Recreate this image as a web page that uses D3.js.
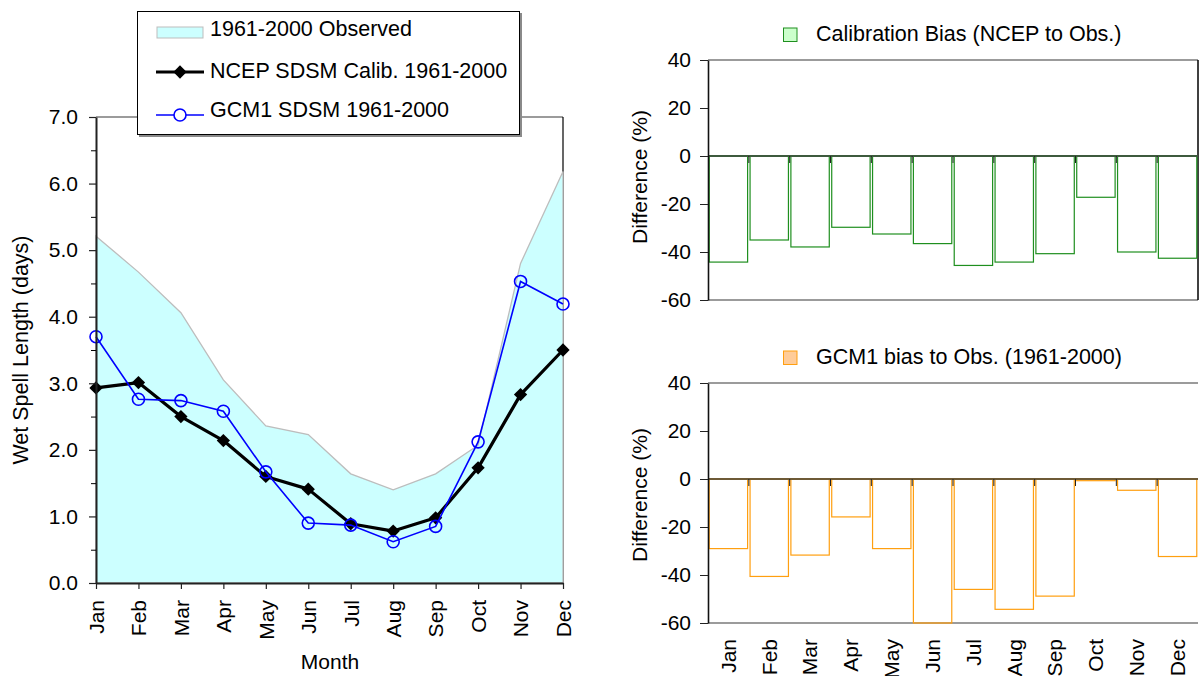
<!DOCTYPE html>
<html>
<head>
<meta charset="utf-8">
<script src="https://cdn.jsdelivr.net/npm/d3@7"></script>
<style>
  body { margin: 0; background: #fff; }
  svg { display: block; }
  text { font-family: "Liberation Sans", Arial, sans-serif; fill: #000; }
</style>
</head>
<body>
<svg id="chart" width="1199" height="676"></svg>
<script>
// ---- data ----
const months = ["Jan", "Feb", "Mar", "Apr", "May", "Jun", "Jul", "Aug", "Sep", "Oct", "Nov", "Dec"];
// mean wet spell length (days)
const observed  = [5.21, 4.67, 4.06, 3.05, 2.36, 2.23, 1.64, 1.40, 1.64, 2.07, 4.80, 6.18];
const ncepCalib = [2.93, 3.01, 2.50, 2.14, 1.60, 1.41, 0.89, 0.78, 0.98, 1.73, 2.83, 3.50];
const gcm1      = [3.70, 2.76, 2.74, 2.58, 1.67, 0.90, 0.87, 0.62, 0.85, 2.12, 4.53, 4.19];
// differences to observed (%)
const calibBias = [-44.2, -35.0, -37.9, -29.7, -32.5, -36.5, -45.6, -44.2, -40.7, -17.2, -40.0, -42.6];
const gcmBias   = [-29.0, -40.6, -31.7, -15.8, -29.0, -60.0, -46.0, -54.3, -48.8, -0.7, -4.7, -32.3];
// tick values
const wetTicks = [0, 1, 2, 3, 4, 5, 6, 7];
const wetMinorTicks = [0.5, 1.5, 2.5, 3.5, 4.5, 5.5, 6.5];
const diffTicks = [-60, -40, -20, 0, 20, 40];

const FS = 21;     // tick labels
const FS_L = 21.5; // legends and axis titles
const svg = d3.select("#chart");

// ================= left panel: wet spell length =================
const L = { left: 96, right: 563, top: 117, bottom: 583 };
const xL = d3.scalePoint().domain(months).range([L.left, L.right]);
const yL = d3.scaleLinear().domain([0, 7]).range([L.bottom, L.top]);
const gL = svg.append("g");

// plot frame
gL.append("line").attr("x1", L.left).attr("x2", L.right).attr("y1", L.top).attr("y2", L.top)
  .attr("stroke", "#7a7a7a").attr("stroke-width", 1.5);
gL.append("line").attr("x1", L.right).attr("x2", L.right).attr("y1", L.top).attr("y2", L.bottom)
  .attr("stroke", "#000").attr("stroke-width", 1.2);

// observed envelope
const area = d3.area()
  .x((d, i) => xL(months[i]))
  .y0(yL(0))
  .y1(d => yL(d));
gL.append("path").datum(observed).attr("d", area)
  .attr("fill", "#ccffff").attr("stroke", "#bdbdbd").attr("stroke-width", 1.3);

const lineGen = d3.line().x((d, i) => xL(months[i])).y(d => yL(d));

// NCEP calibration line with diamond markers
gL.append("path").datum(ncepCalib).attr("d", lineGen)
  .attr("fill", "none").attr("stroke", "#000").attr("stroke-width", 3.2).attr("stroke-linejoin", "round");
const diamond = d3.symbol(d3.symbolSquare, 88);
gL.selectAll(".ncep-pt").data(ncepCalib).join("path").attr("class", "ncep-pt")
  .attr("d", diamond)
  .attr("transform", (d, i) => `translate(${xL(months[i])},${yL(d)}) rotate(45)`)
  .attr("fill", "#000");

// GCM1 line with open circles
gL.append("path").datum(gcm1).attr("d", lineGen)
  .attr("fill", "none").attr("stroke", "#0000ff").attr("stroke-width", 1.6);
gL.selectAll(".gcm-pt").data(gcm1).join("circle").attr("class", "gcm-pt")
  .attr("cx", (d, i) => xL(months[i])).attr("cy", d => yL(d)).attr("r", 6)
  .attr("fill", "none").attr("stroke", "#0000ff").attr("stroke-width", 1.6);

// axes
const yAxisL = gL.append("g").attr("transform", `translate(${L.left},0)`)
  .call(d3.axisLeft(yL).tickValues(wetTicks).tickFormat(d3.format(".1f"))
    .tickSizeInner(7).tickSizeOuter(0).tickPadding(11));
gL.append("g").attr("transform", `translate(${L.left},0)`)
  .call(d3.axisLeft(yL).tickValues(wetMinorTicks).tickFormat("").tickSizeInner(5).tickSizeOuter(0))
  .call(g => g.select(".domain").remove());
const xAxisL = gL.append("g").attr("transform", `translate(0,${L.bottom})`)
  .call(d3.axisBottom(xL).tickSizeInner(6).tickSizeOuter(0));
xAxisL.selectAll(".tick text")
  .attr("transform", "rotate(-90)").attr("x", -17).attr("y", 0).attr("dy", "0.35em")
  .style("text-anchor", "end");
[yAxisL, xAxisL].forEach(a => {
  a.select(".domain").attr("stroke", "#222").attr("stroke-width", 2);
  a.selectAll(".tick line").attr("stroke", "#222").attr("stroke-width", 1.2);
  a.selectAll(".tick text").attr("font-size", FS).attr("font-family", null);
});

gL.append("text").attr("transform", `translate(28,${(L.top + L.bottom) / 2}) rotate(-90)`)
  .attr("text-anchor", "middle").attr("font-size", FS_L).text("Wet Spell Length (days)");
gL.append("text").attr("x", 330).attr("y", 669).attr("text-anchor", "middle")
  .attr("font-size", FS).text("Month");

// legend
const lg = svg.append("g");
lg.append("rect").attr("x", 139).attr("y", 13).attr("width", 383).attr("height", 124).attr("fill", "#8a8a8a");
lg.append("rect").attr("x", 137.5).attr("y", 11.5).attr("width", 382).attr("height", 123)
  .attr("fill", "#fff").attr("stroke", "#000").attr("stroke-width", 1);
lg.append("rect").attr("x", 157).attr("y", 27).attr("width", 46).attr("height", 11)
  .attr("fill", "#ccffff").attr("stroke", "#bdbdbd");
lg.append("text").attr("x", 210).attr("y", 36).attr("font-size", FS_L).text("1961-2000 Observed");
lg.append("line").attr("x1", 156).attr("x2", 204).attr("y1", 72).attr("y2", 72)
  .attr("stroke", "#000").attr("stroke-width", 3);
lg.append("path").attr("d", diamond).attr("transform", "translate(180,72) rotate(45)").attr("fill", "#000");
lg.append("text").attr("x", 210).attr("y", 78).attr("font-size", FS_L).text("NCEP SDSM Calib. 1961-2000");
lg.append("line").attr("x1", 156).attr("x2", 204).attr("y1", 115).attr("y2", 115)
  .attr("stroke", "#0000ff").attr("stroke-width", 1.6);
lg.append("circle").attr("cx", 180).attr("cy", 115).attr("r", 6)
  .attr("fill", "#fff").attr("stroke", "#0000ff").attr("stroke-width", 1.6);
lg.append("text").attr("x", 210).attr("y", 117).attr("font-size", FS_L).text("GCM1 SDSM 1961-2000");

// ================= right panels: bias bars =================
function biasPanel(values, o) {
  const g = svg.append("g");
  const x = d3.scaleBand().domain(months).range([o.left, o.right]).paddingInner(0.06).paddingOuter(0.03);
  const y = d3.scaleLinear().domain([-60, 40]).range([o.bottom, o.top]);
  const step = x.step();

  // frame
  g.append("line").attr("x1", o.left).attr("x2", o.right).attr("y1", o.top).attr("y2", o.top)
    .attr("stroke", "#7a7a7a").attr("stroke-width", 1.5);
  g.append("line").attr("x1", o.left).attr("x2", o.right).attr("y1", o.bottom).attr("y2", o.bottom)
    .attr("stroke", "#7a7a7a").attr("stroke-width", 1.5);
  if (o.rightBorder) {
    g.append("line").attr("x1", o.right).attr("x2", o.right).attr("y1", o.top).attr("y2", o.bottom)
      .attr("stroke", "#000").attr("stroke-width", 1.5);
  }

  // bars
  g.selectAll(".bar").data(values).join("rect").attr("class", "bar")
    .attr("x", (d, i) => x(months[i]))
    .attr("y", d => Math.min(y(d), y(0)))
    .attr("width", x.bandwidth())
    .attr("height", d => Math.abs(y(d) - y(0)))
    .attr("fill", "none").attr("stroke", o.barColor).attr("stroke-width", 1.2);

  // zero line and category ticks
  g.append("line").attr("x1", o.left).attr("x2", o.right).attr("y1", y(0)).attr("y2", y(0))
    .attr("stroke", o.zeroColor).attr("stroke-width", 2);
  g.selectAll(".ztick").data(d3.range(1, months.length)).join("line").attr("class", "ztick")
    .attr("x1", k => o.left + k * step).attr("x2", k => o.left + k * step)
    .attr("y1", y(0)).attr("y2", y(0) + 7)
    .attr("stroke", "#222").attr("stroke-width", 1);

  // y axis
  const ya = g.append("g").attr("transform", `translate(${o.left},0)`)
    .call(d3.axisLeft(y).tickValues(diffTicks).tickFormat(d => String(d))
      .tickSizeInner(8).tickSizeOuter(0).tickPadding(9));
  ya.select(".domain").attr("stroke", "#111").attr("stroke-width", 1.6);
  ya.selectAll(".tick line").attr("stroke", "#222");
  ya.selectAll(".tick text").attr("font-size", FS).attr("font-family", null);

  g.append("text").attr("transform", `translate(647,${o.labelY}) rotate(-90)`)
    .attr("text-anchor", "middle").attr("font-size", FS).text("Difference (%)");

  // legend
  g.append("rect").attr("x", 783.5).attr("y", o.legendY).attr("width", 13.5).attr("height", 13.5)
    .attr("fill", o.swatchFill).attr("stroke", o.barColor).attr("stroke-width", 1);
  g.append("text").attr("x", 816).attr("y", o.legendY + 12.5).attr("font-size", FS_L).text(o.title);

  if (o.showMonths) {
    g.selectAll(".mlab").data(months).join("text").attr("class", "mlab")
      .attr("transform", m => `translate(${x(m) + x.bandwidth() / 2},${o.bottom + 16}) rotate(-90)`)
      .attr("dy", "0.35em").attr("text-anchor", "end").attr("font-size", FS).text(m => m);
  }
}

biasPanel(calibBias, {
  left: 708, right: 1198, top: 60, bottom: 300,
  barColor: "#1f8f1f", zeroColor: "#3d5a3d", swatchFill: "#ccffcc",
  title: "Calibration Bias (NCEP to Obs.)", legendY: 28, labelY: 177,
  rightBorder: true, showMonths: false
});
biasPanel(gcmBias, {
  left: 708, right: 1198, top: 383, bottom: 623,
  barColor: "#ff9f10", zeroColor: "#6e5a36", swatchFill: "#ffcc99",
  title: "GCM1 bias to Obs. (1961-2000)", legendY: 351, labelY: 495,
  rightBorder: false, showMonths: true
});
</script>
</body>
</html>
